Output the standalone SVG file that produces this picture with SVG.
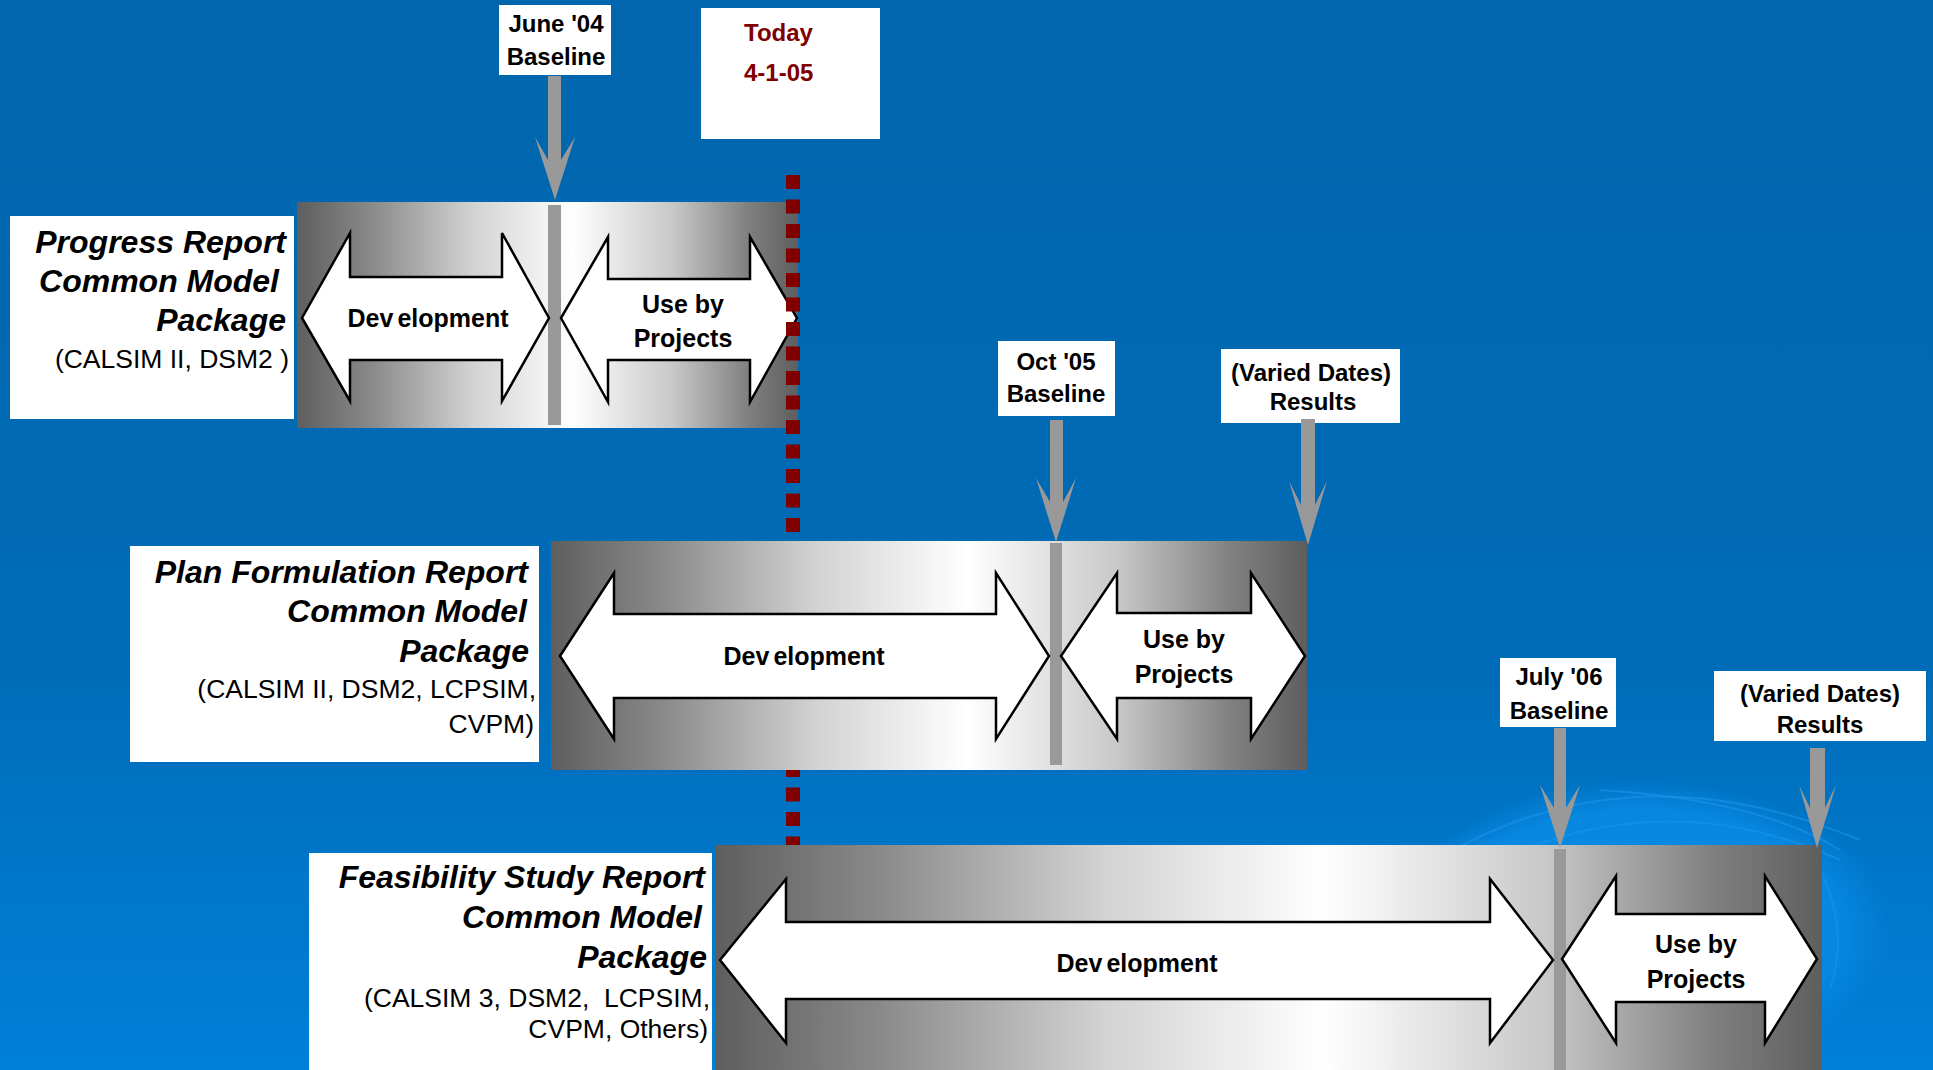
<svg xmlns="http://www.w3.org/2000/svg" width="1933" height="1070" viewBox="0 0 1933 1070">
<defs>
<linearGradient id="bg" x1="0" y1="0" x2="0" y2="1">
<stop offset="0" stop-color="#0166ad"/>
<stop offset="0.6" stop-color="#006bb7"/>
<stop offset="1" stop-color="#0080d8"/>
</linearGradient>
<linearGradient id="bar" x1="0" y1="0" x2="1" y2="0">
<stop offset="0" stop-color="#5e5e5e"/>
<stop offset="0.15" stop-color="#8a8a8a"/>
<stop offset="0.35" stop-color="#d2d2d2"/>
<stop offset="0.55" stop-color="#ffffff"/>
<stop offset="0.75" stop-color="#c8c8c8"/>
<stop offset="0.9" stop-color="#808080"/>
<stop offset="1" stop-color="#5e5e5e"/>
</linearGradient>
<radialGradient id="globe" cx="0.5" cy="0.5" r="0.5">
<stop offset="0" stop-color="#0a8fe6"/>
<stop offset="0.8" stop-color="#0687e0"/>
<stop offset="1" stop-color="#0687e0" stop-opacity="0"/>
</radialGradient>
</defs>
<style>
.lbl{fill:#ffffff}
.bar{fill:url(#bar)}
.div{fill:#999999}
.dbl{fill:#ffffff;stroke:#000000;stroke-width:2.5;stroke-linejoin:miter}
.ttl{font-family:"Liberation Sans",Arial,sans-serif;font-weight:bold;font-style:italic;font-size:32px;fill:#000000;text-anchor:end}
.sub{font-family:"Liberation Sans",Arial,sans-serif;font-size:26.5px;fill:#000000;text-anchor:end}
.in{font-family:"Liberation Sans",Arial,sans-serif;font-weight:bold;font-size:25px;fill:#000000;text-anchor:middle}
.sm{font-family:"Liberation Sans",Arial,sans-serif;font-weight:bold;font-size:24px;fill:#000000;text-anchor:middle}
.today{font-family:"Liberation Sans",Arial,sans-serif;font-weight:bold;font-size:24px;fill:#800000}
.arr{fill:#999999}
.globe{fill:none;stroke:#1a94e8;stroke-width:2;stroke-opacity:0.6}
</style>
<rect x="0" y="0" width="1933" height="1070" fill="url(#bg)"/>
<g id="background-globe">
<ellipse cx="1640" cy="930" rx="250" ry="150" fill="url(#globe)"/>
<path class="globe" d="M1420 870 Q1620 740 1860 840"/>
<path class="globe" d="M1440 890 Q1640 770 1840 860"/>
<path class="globe" d="M1600 790 Q1760 800 1840 850"/>
<path class="globe" d="M1820 870 Q1850 930 1830 990"/>
</g>

<g id="progress-report">
<rect class="lbl" x="10" y="216" width="284" height="203"/>
<text class="ttl" x="286" y="253">Progress Report</text>
<text class="ttl" x="279" y="292">Common Model</text>
<text class="ttl" x="286" y="331">Package</text>
<text class="sub" x="289" y="368">(CALSIM II, DSM2 )</text>
</g>
<g id="progress-bar">
<rect class="bar" x="297" y="202" width="501" height="226"/>
<rect class="div" x="548" y="205" width="13" height="220"/>
<polygon class="dbl" points="302,318 350,233 350,277 502,277 502,233 549,318 502,401 502,360 350,360 350,401"/>
<text class="in" x="428" y="327">Dev<tspan dx="4">elopment</tspan></text>
<polygon class="dbl" points="561,318 608,237 608,279 750,279 750,237 797,318 750,402 750,360 608,360 608,402"/>
<text class="in" x="683" y="313">Use by</text>
<text class="in" x="683" y="347">Projects</text>
</g>

<g id="today-marker">
<line x1="793" y1="175" x2="793" y2="845" stroke="#800000" stroke-width="14" stroke-dasharray="14 10.5"/>
</g>

<g id="plan-formulation-report">
<rect class="lbl" x="130" y="546" width="409" height="216"/>
<text class="ttl" x="528" y="583">Plan Formulation Report</text>
<text class="ttl" x="527" y="622">Common Model</text>
<text class="ttl" x="529" y="662">Package</text>
<text class="sub" x="536" y="698">(CALSIM II, DSM2, LCPSIM,</text>
<text class="sub" x="534" y="733">CVPM)</text>
</g>
<g id="plan-formulation-bar">
<rect class="bar" x="551" y="541" width="756" height="229"/>
<rect class="div" x="1050" y="543" width="12" height="222"/>
<polygon class="dbl" points="560,656 614,573 614,614 996,614 996,573 1049,656 996,739 996,698 614,698 614,739"/>
<text class="in" x="804" y="665">Dev<tspan dx="4">elopment</tspan></text>
<polygon class="dbl" points="1061,656 1117,573 1117,613 1251,613 1251,573 1305,656 1251,739 1251,698 1117,698 1117,739"/>
<text class="in" x="1184" y="648">Use by</text>
<text class="in" x="1184" y="683">Projects</text>
</g>

<g id="feasibility-study-report">
<rect class="lbl" x="309" y="853" width="403" height="217"/>
<text class="ttl" x="705" y="888">Feasibility Study Report</text>
<text class="ttl" x="702" y="928">Common Model</text>
<text class="ttl" x="707" y="968">Package</text>
<text class="sub" x="710" y="1007">(CALSIM 3, DSM2,&#160; LCPSIM,</text>
<text class="sub" x="708" y="1038">CVPM, Others)</text>
</g>
<g id="feasibility-study-bar">
<rect class="bar" x="715" y="845" width="1107" height="225"/>
<rect class="div" x="1554" y="849" width="12" height="221"/>
<polygon class="dbl" points="720,960 786,879 786,922 1490,922 1490,879 1553,960 1490,1043 1490,999 786,999 786,1043"/>
<text class="in" x="1137" y="972">Dev<tspan dx="4">elopment</tspan></text>
<polygon class="dbl" points="1562,959 1616,876 1616,914 1765,914 1765,876 1817,959 1765,1043 1765,1002 1616,1002 1616,1043"/>
<text class="in" x="1696" y="953">Use by</text>
<text class="in" x="1696" y="988">Projects</text>
</g>

<g id="june04-baseline">
<rect class="lbl" x="499" y="5" width="112" height="70"/>
<text class="sm" x="556" y="32">June '04</text>
<text class="sm" x="556" y="65">Baseline</text>
</g>
<g id="today-label">
<rect class="lbl" x="701" y="8" width="179" height="131"/>
<text class="today" x="744" y="41">Today</text>
<text class="today" x="744" y="81">4-1-05</text>
</g>
<g id="oct05-baseline">
<rect class="lbl" x="998" y="341" width="117" height="75"/>
<text class="sm" x="1056" y="370">Oct '05</text>
<text class="sm" x="1056" y="402">Baseline</text>
</g>
<g id="results-1">
<rect class="lbl" x="1221" y="349" width="179" height="74"/>
<text class="sm" x="1311" y="381">(Varied Dates)</text>
<text class="sm" x="1313" y="410">Results</text>
</g>
<g id="july06-baseline">
<rect class="lbl" x="1500" y="658" width="116" height="69"/>
<text class="sm" x="1559" y="685">July '06</text>
<text class="sm" x="1559" y="719">Baseline</text>
</g>
<g id="results-2">
<rect class="lbl" x="1714" y="671" width="212" height="70"/>
<text class="sm" x="1820" y="702">(Varied Dates)</text>
<text class="sm" x="1820" y="733">Results</text>
</g>

<g id="connectors">
<polygon class="arr" points="548,76 561,76 561,160 575,137 555,200 535,137 548,160"/>
<polygon class="arr" points="1050,420 1063,420 1063,502 1076,478 1056,542 1036,478 1050,502"/>
<polygon class="arr" points="1301,419 1315,419 1315,505 1327,481 1308,545 1289,481 1301,505"/>
<polygon class="arr" points="1554,728 1566,728 1566,808 1580,785 1560,848 1540,785 1554,808"/>
<polygon class="arr" points="1810,748 1825,748 1825,808 1836,785 1817,848 1799,785 1810,808"/>
</g>
</svg>
